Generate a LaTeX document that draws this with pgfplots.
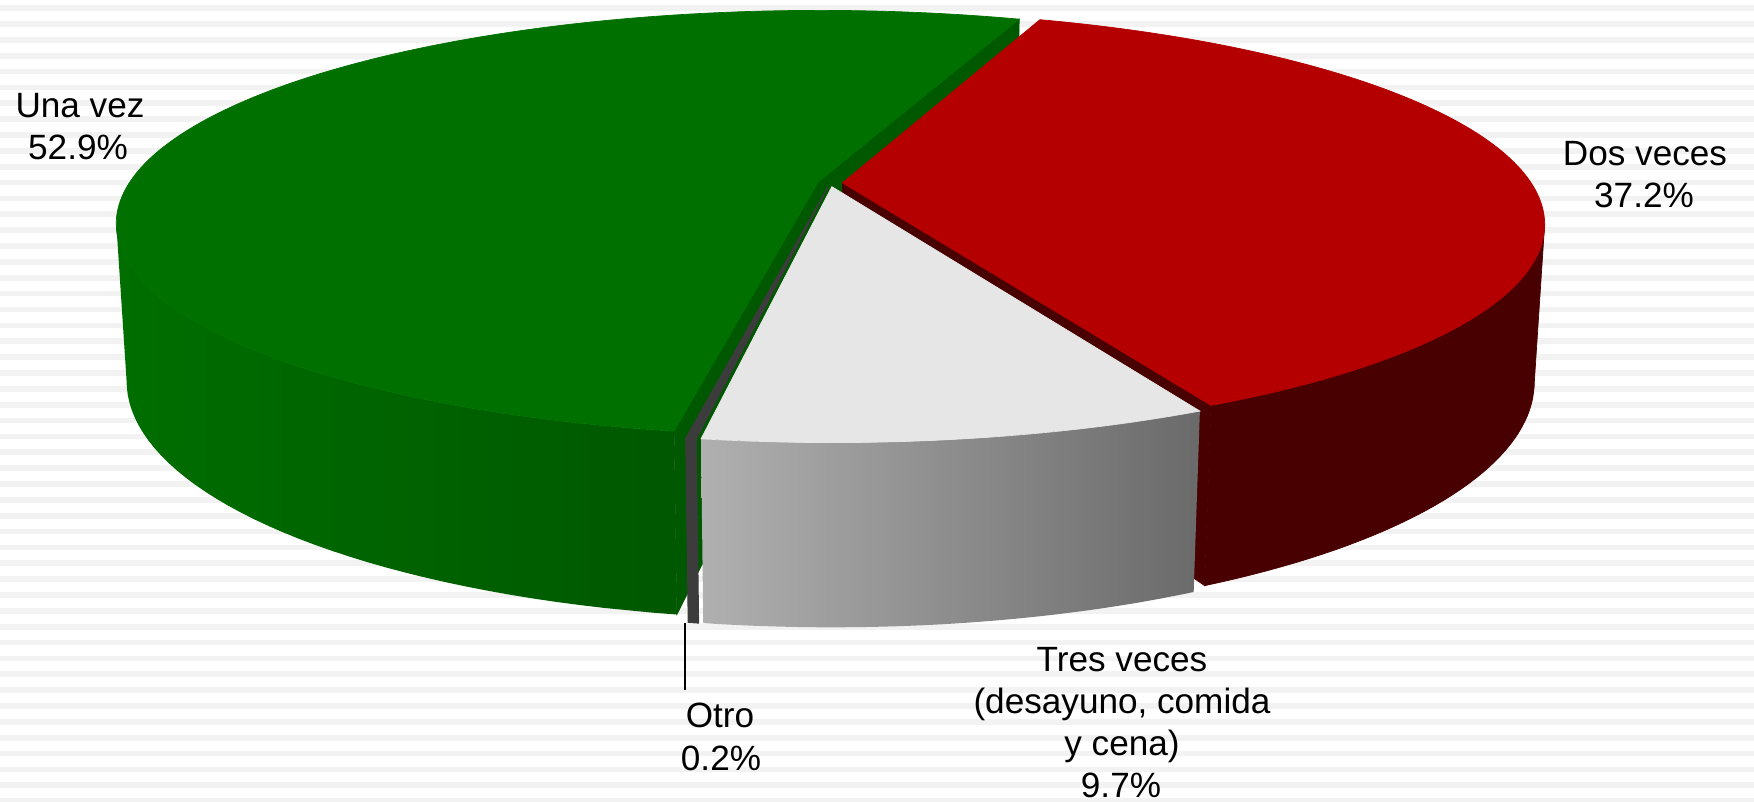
\documentclass[border=0pt]{standalone}
\usepackage{pgfplots}
\pgfplotsset{compat=1.18}
\usepackage{fontspec}
\setmainfont{Liberation Sans}
\definecolor{gtop}{RGB}{0,112,0}
\definecolor{gside1}{RGB}{0,110,0}
\definecolor{gside2}{RGB}{0,88,0}
\definecolor{gface}{RGB}{0,88,0}
\definecolor{rtop}{RGB}{180,0,0}
\definecolor{rside}{RGB}{72,0,0}
\definecolor{wtop}{RGB}{230,230,230}
\definecolor{wside1}{RGB}{176,176,176}
\definecolor{wside2}{RGB}{106,106,106}
\definecolor{otro}{RGB}{60,60,60}
\definecolor{stripe}{RGB}{242,242,242}
% data (percent)
\def\pDos{37.2}
\def\pTres{9.7}
\def\pOtro{0.2}
\def\pUna{52.9}
\newcommand\getpt[4]{\pgfmathsetmacro\px{sx(#1,#2,#3,#4)}\pgfmathsetmacro\py{sy(#1,#2,#3,#4)}}
\def\sidesamples{0,0.025,...,0.975,1,1.00001,1.025,1.05,...,1.95,1.975,2}
\begin{document}
\begin{tikzpicture}[declare function={
 wx(\qt,\qr,\qm)=\qr*sin(\qt)+0.018*sin(\qm);
 wy(\qt,\qr,\qm)=\qr*cos(\qt)+0.018*cos(\qm);
 dp(\qt,\qr,\qm,\qz)=4.959+0.9547*wy(\qt,\qr,\qm)-0.2977*\qz;
 sx(\qt,\qr,\qm,\qz)=830+3416*wx(\qt,\qr,\qm)/dp(\qt,\qr,\qm,\qz);
 sy(\qt,\qr,\qm,\qz)=183-3416*(0.2977*wy(\qt,\qr,\qm)+0.9547*\qz)/dp(\qt,\qr,\qm,\qz);
 ang(\qs,\qa,\qb)=\qa+(\qb-\qa)*(\qs-2*(\qs-1)*(\qs>1));
 zz(\qs)=-0.2354*(\qs>1);
}]
\path[use as bounding box] (0,0) rectangle (17.54cm,8.02cm);
% slice angles from the data
\pgfmathsetmacro\aR{20}
\pgfmathsetmacro\bR{\aR+3.6*\pDos}
\pgfmathsetmacro\bW{\bR+3.6*\pTres}
\pgfmathsetmacro\bO{\bW+3.6*\pOtro}
\pgfmathsetmacro\bG{\bO+3.6*\pUna}
\pgfmathsetmacro\mR{(\aR+\bR)/2}
\pgfmathsetmacro\mW{(\bR+\bW)/2}
\pgfmathsetmacro\mO{(\bW+\bO)/2}
\pgfmathsetmacro\mG{(\bO+\bG)/2}
% apexes
\getpt{0}{0}{\mG}{0}\let\gAx\px\let\gAy\py
\getpt{0}{0}{\mG}{-0.2354}\let\gBx\px\let\gBy\py
\getpt{0}{0}{\mR}{0}\let\rAx\px\let\rAy\py
\getpt{0}{0}{\mR}{-0.2354}\let\rBx\px\let\rBy\py
\getpt{0}{0}{\mW}{0}\let\wAx\px\let\wAy\py
\getpt{0}{0}{\mO}{0}\let\oAx\px\let\oAy\py
% rim points for radial faces
\getpt{\bG}{1}{\mG}{0}\let\geTx\px\let\geTy\py
\getpt{\bG}{1}{\mG}{-0.2354}\let\geBx\px\let\geBy\py
\getpt{\bO}{1}{\mG}{0}\let\gsTx\px\let\gsTy\py
\getpt{\bO}{1}{\mG}{-0.2354}\let\gsBx\px\let\gsBy\py
\getpt{\bR}{1}{\mR}{0}\let\reTx\px\let\reTy\py
\getpt{\bR}{1}{\mR}{-0.2354}\let\reBx\px\let\reBy\py
\begin{axis}[
  scale only axis, width=17.54cm, height=8.02cm,
  xmin=0, xmax=1754, ymin=0, ymax=802, y dir=reverse,
  axis line style={draw=none}, tick style={draw=none},
  xtick=\empty, ytick={8.15,24.01,...,802}, yticklabels={},
  ymajorgrids, grid style={line width=0.57mm, color=stripe},
  clip=false,
]
% ---- Una vez (green)
\addplot[fill=gface, draw=gface, line width=0.2pt] coordinates {(\gAx,\gAy) (\geTx,\geTy) (\geBx,\geBy) (\gBx,\gBy)} -- cycle;
\addplot[fill=gface, draw=gface, line width=0.2pt] coordinates {(\gAx,\gAy) (\gsTx,\gsTy) (\gsBx,\gsBy) (\gBx,\gBy)} -- cycle;
\addplot[left color=gside1, right color=gside2, draw=none, variable=\s, samples at=\sidesamples]
  ({sx(ang(\s,\bO,259),1,\mG,zz(\s))},{sy(ang(\s,\bO,259),1,\mG,zz(\s))}) -- cycle;
\addplot[fill=gtop, draw=gtop, line width=0.2pt, domain=\bO:\bG, samples=150, variable=\t]
  ({sx(\t,1,\mG,0)},{sy(\t,1,\mG,0)}) -- (axis cs:\gAx,\gAy) -- cycle;
% ---- Dos veces (red)
\addplot[fill=rside, draw=rside, line width=0.2pt] coordinates {(\rAx,\rAy) (\reTx,\reTy) (\reBx,\reBy) (\rBx,\rBy)} -- cycle;
\addplot[fill=rside, draw=rside, line width=0.2pt, variable=\s, samples at=\sidesamples]
  ({sx(ang(\s,101,\bR),1,\mR,zz(\s))},{sy(ang(\s,101,\bR),1,\mR,zz(\s))}) -- cycle;
\addplot[fill=rtop, draw=rtop, line width=0.2pt, domain=\aR:\bR, samples=120, variable=\t]
  ({sx(\t,1,\mR,0)},{sy(\t,1,\mR,0)}) -- (axis cs:\rAx,\rAy) -- cycle;
% ---- Otro (dark grey)
\addplot[fill=otro, draw=otro, line width=0.3pt, variable=\s,
  samples at={0,0.25,0.5,0.75,1,1.00001,1.25,1.5,1.75,2}]
  ({sx(ang(\s,\bW,\bO),1,\mO,zz(\s))},{sy(ang(\s,\bW,\bO),1,\mO,zz(\s))}) -- cycle;
\addplot[fill=otro, draw=otro, line width=0.3pt, domain=\bW:\bO, samples=5, variable=\t]
  ({sx(\t,1,\mO,0)},{sy(\t,1,\mO,0)}) -- (axis cs:\oAx,\oAy) -- cycle;
% ---- Tres veces (light grey)
\addplot[left color=wside1, right color=wside2, draw=none, variable=\s, samples at=\sidesamples]
  ({sx(ang(\s,\bR,\bW),1,\mW,zz(\s))},{sy(ang(\s,\bR,\bW),1,\mW,zz(\s))}) -- cycle;
\addplot[fill=wtop, draw=wtop, line width=0.2pt, domain=\bR:\bW, samples=60, variable=\t]
  ({sx(\t,1,\mW,0)},{sy(\t,1,\mW,0)}) -- (axis cs:\wAx,\wAy) -- cycle;
% ---- leader line for Otro
\addplot[black, line width=0.45pt] coordinates {(685,623) (685,690)};
% ---- labels
\begingroup
\fontsize{10.5}{12.6}\selectfont
\node[anchor=base] at (axis cs:80,118) {Una vez};
\node[anchor=base] at (axis cs:78,160) {52.9\%};
\node[anchor=base] at (axis cs:1645,165) {Dos veces};
\node[anchor=base] at (axis cs:1644,208) {37.2\%};
\node[anchor=base] at (axis cs:720,727) {Otro};
\node[anchor=base] at (axis cs:721,770) {0.2\%};
\node[anchor=base] at (axis cs:1122,671) {Tres veces};
\node[anchor=base] at (axis cs:1122,713) {(desayuno, comida};
\node[anchor=base] at (axis cs:1122,755) {y cena)};
\node[anchor=base] at (axis cs:1121,797) {9.7\%};
\endgroup
\end{axis}
\end{tikzpicture}
\end{document}
